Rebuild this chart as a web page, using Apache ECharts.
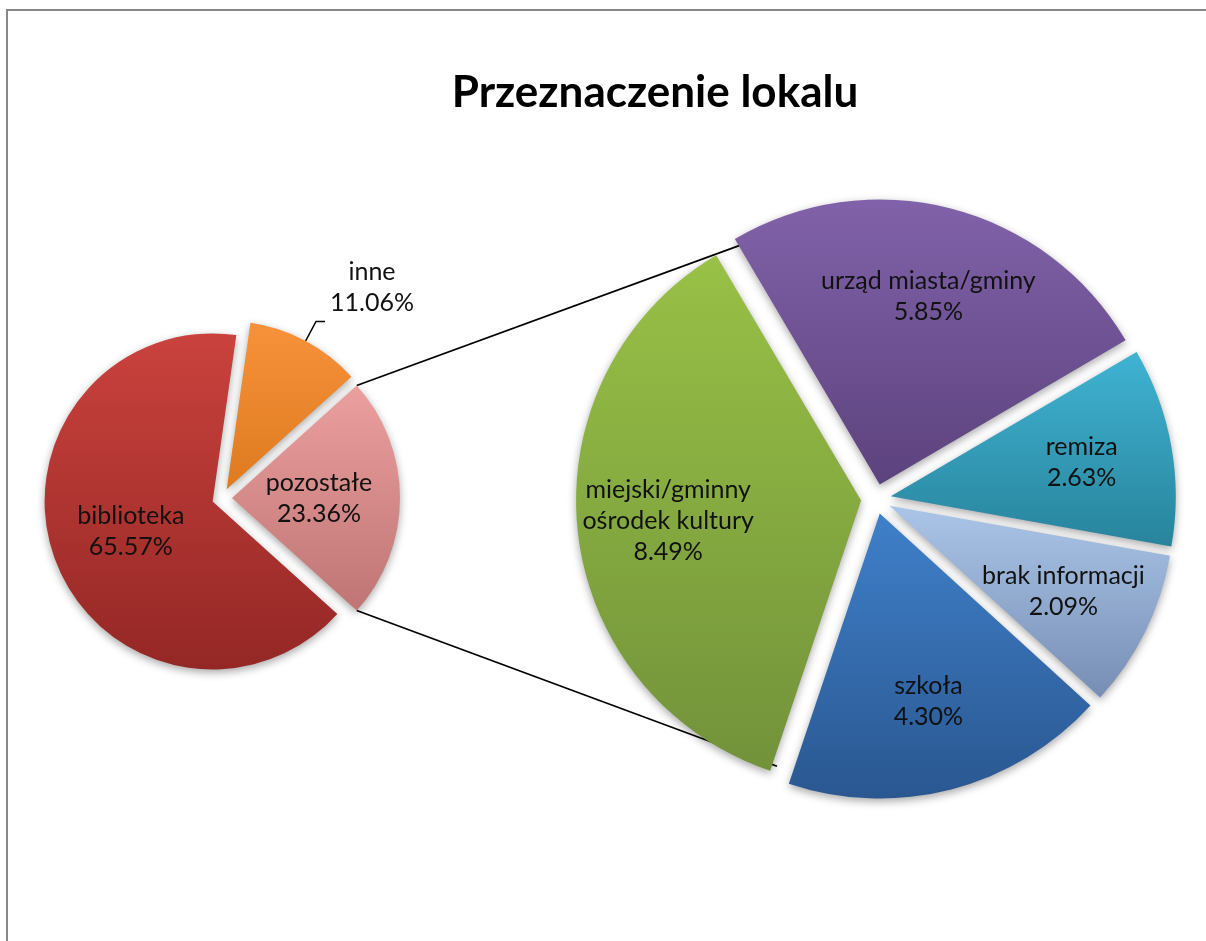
<!DOCTYPE html>
<html>
<head>
<meta charset="utf-8">
<title>Przeznaczenie lokalu</title>
<script src="https://cdn.jsdelivr.net/npm/echarts@6/dist/echarts.min.js"></script>
<style>
  html, body { margin: 0; padding: 0; background: #fff; overflow: hidden; }
  #frame { position: absolute; left: 6px; top: 9px; width: 1300px; height: 1000px;
           border-left: 2px solid #888; border-top: 2px solid #888; }
  #chart { position: absolute; left: 0; top: 0; width: 1206px; height: 941px; }
</style>
</head>
<body>
<div id="frame"></div>
<div id="chart"></div>
<script>
// pierwszy wykres (kolejność zgodnie z ruchem wskazówek zegara)
var mainNames = ['inne', 'pozostałe', 'biblioteka']
var mainValues = [11.06, 23.36, 65.57]
// drugi wykres - rozbicie "pozostałe"
var subNames = ['miejski/gminny\nośrodek kultury', 'urząd miasta/gminy', 'remiza', 'brak informacji', 'szkoła']
var subValues = [8.49, 5.85, 2.63, 2.09, 4.30]

var mainColors = [['#F7923A', '#DE7A20'], ['#EBA09F', '#BF7573'], ['#CA423D', '#942725']]
var subColors = [['#98C146', '#72923A'], ['#8162AA', '#5C427D'], ['#40B3D3', '#28849C'], ['#ABC5E9', '#768EB3'], ['#3F80CA', '#2A5790']]

var FONT = 'Lato'
var bigC = [222, 498], bigR = 168, bigOff = 10
var subC = [876, 499], subR = 285, subOff = 15
var subStart = 251.4

function grad (c) {
  return {
    type: 'linear', x: 0, y: 0, x2: 0, y2: 1,
    colorStops: [{ offset: 0, color: c[0] }, { offset: 1, color: c[1] }]
  }
}
function fmt (p) {
  return p.name + '\n' + p.value.toFixed(2) + '%'
}

var mainSum = mainValues.reduce((a, b) => a + b, 0)
var spanInne = mainValues[0] / mainSum * 360
var spanPoz = mainValues[1] / mainSum * 360
// "pozostałe" wyśrodkowane na godzinie 3
var mainStart = spanInne + spanPoz / 2

var labelStyle = {
  fontFamily: FONT, fontSize: 25, lineHeight: 31, color: '#111'
}

var mainData = mainNames.map((n, i) => {
  let item = { name: n, value: mainValues[i], selected: true, itemStyle: { color: grad(mainColors[i]) } }
  if (n === 'inne') {
    item.label = {
      position: 'outside',
      padding: [0, 0, 68, 0],
      formatter: p => '{a|' + p.name + '}\n{a|' + p.value.toFixed(2) + '%}',
      rich: { a: { width: 84, align: 'center', fontFamily: FONT, fontSize: 25, lineHeight: 31, color: '#111' } }
    }
    item.labelLine = { show: true, length: 22, length2: 9, smooth: false, lineStyle: { color: '#000', width: 1.5 } }
  }
  return item
})

var subData = subNames.map((n, i) => ({
  name: n, value: subValues[i], selected: true, itemStyle: { color: grad(subColors[i]) }
}))
var subLabelData = subNames.map((n, i) => ({ name: n, value: subValues[i], selected: true }))

// linie łączące - styczne do drugiego koła
function tangentPoint (p, upper) {
  let vx = p[0] - subC[0], vy = p[1] - subC[1]
  let d = Math.sqrt(vx * vx + vy * vy)
  let phi = Math.atan2(vy, vx)
  let a = Math.acos(subR / d)
  let t1 = [subC[0] + subR * Math.cos(phi + a), subC[1] + subR * Math.sin(phi + a)]
  let t2 = [subC[0] + subR * Math.cos(phi - a), subC[1] + subR * Math.sin(phi - a)]
  if (upper) return t1[1] < t2[1] ? t1 : t2
  return t1[1] > t2[1] ? t1 : t2
}
var pozC = [bigC[0] + bigOff, bigC[1]]
var half = spanPoz / 2 * Math.PI / 180
var pTop = [pozC[0] + bigR * Math.cos(half), pozC[1] - bigR * Math.sin(half)]
var pBot = [pozC[0] + bigR * Math.cos(half), pozC[1] + bigR * Math.sin(half)]
var tTop = tangentPoint(pTop, true)
var tBot = tangentPoint(pBot, false)

var shadow = { shadowBlur: 8, shadowColor: 'rgba(0,0,0,0.35)', shadowOffsetY: 3 }
var connStyle = { stroke: '#000', lineWidth: 1.8 }

var option = {
  animation: false,
  backgroundColor: 'transparent',
  title: {
    text: 'Przeznaczenie lokalu',
    left: 650,
    top: 66,
    textAlign: 'center',
    textStyle: { fontFamily: FONT, fontWeight: 'bold', fontSize: 44, color: '#000' }
  },
  graphic: [
    { type: 'line', z: 1, shape: { x1: pTop[0], y1: pTop[1], x2: tTop[0], y2: tTop[1] }, style: connStyle },
    { type: 'line', z: 1, shape: { x1: pBot[0], y1: pBot[1], x2: tBot[0], y2: tBot[1] }, style: connStyle }
  ],
  series: [
    {
      type: 'pie',
      center: bigC,
      radius: [0, bigR],
      startAngle: mainStart,
      clockwise: true,
      selectedMode: 'multiple',
      selectedOffset: bigOff,
      silent: true,
      z: 2,
      itemStyle: shadow,
      label: Object.assign({ show: true, position: 'inside', formatter: fmt }, labelStyle),
      labelLine: { show: false },
      data: mainData
    },
    {
      type: 'pie',
      center: subC,
      radius: [0, subR],
      startAngle: subStart,
      clockwise: true,
      selectedMode: 'multiple',
      selectedOffset: subOff,
      silent: true,
      z: 2,
      itemStyle: shadow,
      label: { show: false },
      labelLine: { show: false },
      data: subData
    },
    {
      // tylko etykiety drugiego koła, trochę dalej od środka
      type: 'pie',
      center: subC,
      radius: [subR * 0.34, subR],
      startAngle: subStart,
      clockwise: true,
      selectedMode: 'multiple',
      selectedOffset: subOff,
      silent: true,
      z: 3,
      itemStyle: { color: 'rgba(0,0,0,0)' },
      label: Object.assign({ show: true, position: 'inside', formatter: fmt }, labelStyle),
      labelLine: { show: false },
      data: subLabelData
    }
  ]
}

var chart = echarts.init(document.getElementById('chart'))
chart.setOption(option)
</script>
</body>
</html>
